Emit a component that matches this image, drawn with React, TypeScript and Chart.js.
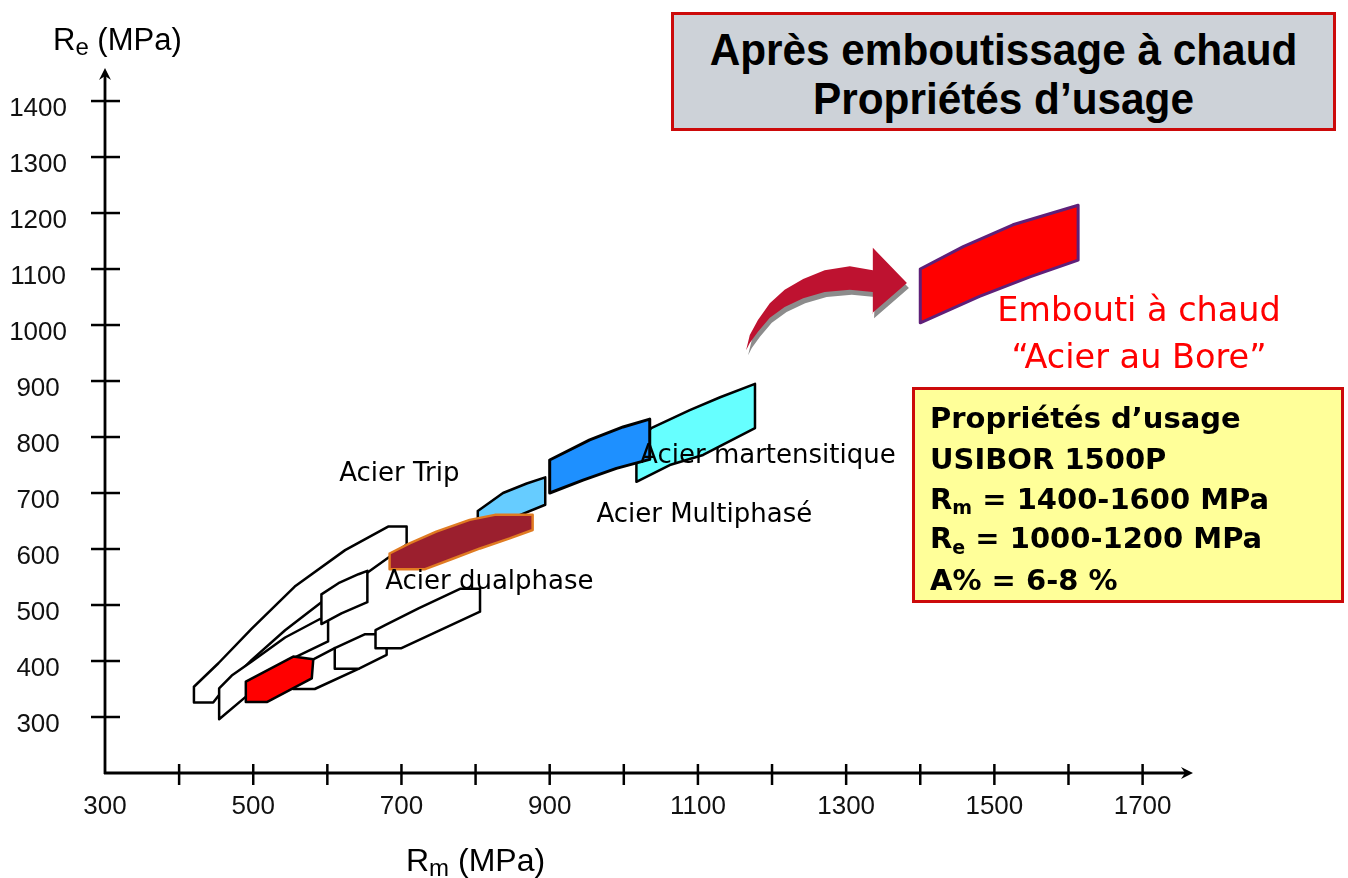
import React, { useEffect, useRef } from "react";
import { Chart, registerables } from "chart.js";

Chart.register(...registerables);

type Pt = [number, number];

// ---- Axis data (MPa) ----
const rmMin = 300;
const rmMax = 1768;
const reMin = 200;
const reMax = 1459;
const rmLabels = [300, 500, 700, 900, 1100, 1300, 1500, 1700];
const reLabels = [300, 400, 500, 600, 700, 800, 900, 1000, 1100, 1200, 1300, 1400];

// ---- Steel domains: [Rm, Re] vertices (MPa) ----
const lowBandOuter: Pt[] = [[420, 354], [420, 326], [446, 326], [466, 360], [498, 402], [543, 455], [592, 505], [651, 555], [707, 608], [707, 640], [682, 640], [624, 598], [556, 533], [498, 458], [453, 396]];
const lowBandInner: Pt[] = [[454, 351], [454, 296], [489, 335], [552, 404], [601, 435], [601, 471], [590, 475], [543, 442], [498, 399], [471, 374]];
const smallBoxUpper: Pt[] = [[592, 519], [592, 466], [619, 485], [654, 505], [654, 561], [642, 555], [615, 539]];
const lowBandLower: Pt[] = [[554, 382], [554, 350], [583, 350], [642, 386], [642, 399], [610, 423], [581, 403]];
const smallBoxLower: Pt[] = [[610, 423], [610, 386], [642, 386], [680, 411], [680, 448], [651, 448]];
const lowBandRight: Pt[] = [[665, 455], [665, 423], [700, 423], [806, 488], [806, 529], [779, 529], [723, 494], [678, 464]];
const redSmallZone: Pt[] = [[490, 363], [490, 327], [519, 327], [579, 369], [581, 403], [554, 408]];
const tripZone: Pt[] = [[803, 668], [803, 638], [853, 657], [894, 679], [894, 728], [869, 717], [837, 700]];
const dualphaseZone: Pt[] = [[684, 592], [684, 564], [732, 564], [770, 583], [806, 601], [846, 619], [877, 634], [877, 661], [826, 661], [792, 652], [747, 631], [711, 610]];
const martensiticZone: Pt[] = [[1017, 786], [1017, 720], [1062, 750], [1107, 768], [1177, 816], [1177, 895], [1130, 871], [1089, 848], [1037, 816]];
const multiphaseZone: Pt[] = [[900, 759], [900, 700], [945, 723], [990, 744], [1035, 760], [1035, 832], [999, 818], [954, 795]];
const boronZone: Pt[] = [[1400, 1004], [1400, 1100], [1458, 1140], [1525, 1179], [1613, 1214], [1613, 1116], [1548, 1086], [1480, 1051]];
const arrowShape: Pt[] = [[1165, 955], [1170, 982], [1181, 1009], [1197, 1039], [1217, 1063], [1242, 1082], [1271, 1098], [1305, 1105], [1336, 1098], [1336, 1138], [1382, 1075], [1335, 1021], [1336, 1059], [1305, 1063], [1271, 1059], [1242, 1048], [1217, 1032], [1197, 1013], [1181, 988], [1170, 968]];

// ---- In-chart labels ----
const zoneLabels = ["Acier Trip", "Acier dualphase", "Acier Multiphasé", "Acier martensitique"];
const zoneLabelRm = [616, 678, 963, 1022];
const zoneLabelRe = [721, 529, 648, 753];

// ---- Draw order (back to front) with styles ----
const zones = [
  { name: "lowBandOuter", pts: lowBandOuter, fill: "#FFFFFF", stroke: "#000000", width: 2.5 },
  { name: "lowBandInner", pts: lowBandInner, fill: "#FFFFFF", stroke: "#000000", width: 2.5 },
  { name: "smallBoxUpper", pts: smallBoxUpper, fill: "#FFFFFF", stroke: "#000000", width: 2.5 },
  { name: "lowBandLower", pts: lowBandLower, fill: "#FFFFFF", stroke: "#000000", width: 2.5 },
  { name: "smallBoxLower", pts: smallBoxLower, fill: "#FFFFFF", stroke: "#000000", width: 2.5 },
  { name: "lowBandRight", pts: lowBandRight, fill: "#FFFFFF", stroke: "#000000", width: 2.5 },
  { name: "redSmallZone", pts: redSmallZone, fill: "#FF0000", stroke: "#000000", width: 2.5 },
  { name: "tripZone", pts: tripZone, fill: "#66CCFF", stroke: "#000000", width: 2.5 },
  { name: "dualphaseZone", pts: dualphaseZone, fill: "#9B1F2E", stroke: "#E07B22", width: 2.5 },
  { name: "martensiticZone", pts: martensiticZone, fill: "#66FFFF", stroke: "#000000", width: 2.5 },
  { name: "multiphaseZone", pts: multiphaseZone, fill: "#1E90FF", stroke: "#000000", width: 3 },
  { name: "boronZone", pts: boronZone, fill: "#FF0000", stroke: "#5E2079", width: 3 },
  { name: "arrow", pts: arrowShape, fill: "#BE1230", stroke: "rgba(0,0,0,0)", width: 0 },
];

const diagramPlugin = {
  id: "diagram",
  beforeDatasetsDraw(chart: any) {
    const idx = chart.data.datasets.findIndex((d: any) => d.label === "arrow");
    if (idx < 0) return;
    const pts = chart.getDatasetMeta(idx).data;
    const ctx = chart.ctx;
    ctx.save();
    ctx.translate(2, 5);
    ctx.beginPath();
    pts.forEach((p: any, i: number) => (i ? ctx.lineTo(p.x, p.y) : ctx.moveTo(p.x, p.y)));
    ctx.closePath();
    ctx.fillStyle = "#8C8C8C";
    ctx.fill();
    ctx.restore();
  },
  afterDatasetsDraw(chart: any) {
    const ctx = chart.ctx;
    const xs = chart.scales.x;
    const ys = chart.scales.y;
    ctx.save();
    ctx.fillStyle = "#000";
    ctx.font = '26px "DejaVu Sans", sans-serif';
    ctx.textAlign = "left";
    ctx.textBaseline = "alphabetic";
    zoneLabels.forEach((t, i) => {
      ctx.fillText(t, xs.getPixelForValue(zoneLabelRm[i]), ys.getPixelForValue(zoneLabelRe[i]));
    });
    ctx.restore();
  },
  afterDraw(chart: any) {
    const ctx = chart.ctx;
    const xs = chart.scales.x;
    const ys = chart.scales.y;
    const area = chart.chartArea;
    const x0 = xs.getPixelForValue(rmMin);
    const y0 = ys.getPixelForValue(reMin);
    ctx.save();
    ctx.strokeStyle = "#000";
    ctx.fillStyle = "#000";
    ctx.lineWidth = 2.8;
    // y axis
    ctx.beginPath();
    ctx.moveTo(x0, y0 + 1);
    ctx.lineTo(x0, area.top + 6);
    ctx.stroke();
    ctx.beginPath();
    ctx.moveTo(x0, area.top);
    ctx.lineTo(x0 - 6, area.top + 12);
    ctx.lineTo(x0, area.top + 8);
    ctx.lineTo(x0 + 6, area.top + 12);
    ctx.closePath();
    ctx.fill();
    // x axis
    ctx.beginPath();
    ctx.moveTo(x0 - 1, y0);
    ctx.lineTo(area.right - 6, y0);
    ctx.stroke();
    ctx.beginPath();
    ctx.moveTo(area.right, y0);
    ctx.lineTo(area.right - 12, y0 - 6);
    ctx.lineTo(area.right - 8, y0);
    ctx.lineTo(area.right - 12, y0 + 6);
    ctx.closePath();
    ctx.fill();
    // tick marks crossing the axes
    ctx.lineWidth = 2.5;
    ys.ticks.forEach((t: any) => {
      if (t.value < 300) return;
      const py = ys.getPixelForValue(t.value);
      ctx.beginPath();
      ctx.moveTo(x0 - 14, py);
      ctx.lineTo(x0 + 15, py);
      ctx.stroke();
    });
    xs.ticks.forEach((t: any) => {
      if (t.value <= rmMin) return;
      const px = xs.getPixelForValue(t.value);
      ctx.beginPath();
      ctx.moveTo(px, y0 - 9);
      ctx.lineTo(px, y0 + 12);
      ctx.stroke();
    });
    ctx.restore();
  },
};

export default function App() {
  const canvasRef = useRef<HTMLCanvasElement>(null);

  useEffect(() => {
    const canvas = canvasRef.current;
    if (!canvas) return;
    const datasets = zones.map((z) => ({
      label: z.name,
      data: z.pts.concat([z.pts[0]]).map(([x, y]) => ({ x, y })),
      showLine: true,
      fill: "shape",
      backgroundColor: z.fill,
      borderColor: z.stroke,
      borderWidth: z.width,
      borderJoinStyle: "round",
      borderCapStyle: "round",
      pointRadius: 0,
      pointHoverRadius: 0,
      tension: 0,
    }));
    // first listed = drawn first (back)
    datasets.forEach((d: any, i: number) => {
      d.order = datasets.length - i;
    });
    const chart = new Chart(canvas, {
      type: "scatter",
      data: { datasets: datasets as any },
      options: {
        responsive: false,
        animation: false,
        events: [],
        layout: { padding: { left: 0, right: 155, top: 68, bottom: 0 } },
        plugins: { legend: { display: false }, tooltip: { enabled: false } },
        scales: {
          x: {
            type: "linear",
            position: "bottom",
            min: rmMin,
            max: rmMax,
            afterFit: (s: any) => {
              s.height = 105;
            },
            grid: { display: false, drawTicks: false },
            border: { display: false },
            ticks: {
              stepSize: 100,
              includeBounds: false,
              autoSkip: false,
              maxRotation: 0,
              minRotation: 0,
              padding: 18,
              color: "#111",
              font: { family: '"Liberation Sans", Arial, sans-serif', size: 26 },
              callback: (v: any) => (rmLabels.includes(Number(v)) ? String(v) : ""),
            },
          },
          y: {
            type: "linear",
            position: "left",
            min: reMin,
            max: reMax,
            afterFit: (s: any) => {
              s.width = 105;
            },
            grid: { display: false, drawTicks: false },
            border: { display: false },
            ticks: {
              stepSize: 100,
              includeBounds: false,
              autoSkip: false,
              padding: 38,
              crossAlign: "center",
              labelOffset: 8,
              color: "#111",
              font: { family: '"Liberation Sans", Arial, sans-serif', size: 26 },
              callback: (v: any) => (reLabels.includes(Number(v)) ? String(v) : ""),
            },
          },
        },
      } as any,
      plugins: [diagramPlugin as any],
    });
    return () => chart.destroy();
  }, []);

  const abs = (extra: React.CSSProperties): React.CSSProperties => ({
    position: "absolute",
    lineHeight: 1,
    whiteSpace: "nowrap",
    margin: 0,
    ...extra,
  });

  const dv = '"DejaVu Sans", Verdana, sans-serif';
  const lib = '"Liberation Sans", Arial, sans-serif';

  return (
    <div style={{ position: "absolute", left: 0, top: 0, width: 1348, height: 878, background: "#FFFFFF", overflow: "hidden" }}>
      <canvas ref={canvasRef} width={1348} height={878} style={{ position: "absolute", left: 0, top: 0 }} />

      {/* Axis titles */}
      <div style={abs({ left: 53, top: 23.8, fontFamily: lib, fontSize: 31, color: "#000" })}>
        R<span style={{ fontSize: 24, position: "relative", top: 5 }}>e</span> (MPa)
      </div>
      <div style={abs({ left: 406, top: 843.6, fontFamily: lib, fontSize: 32, color: "#000" })}>
        R<span style={{ fontSize: 24, position: "relative", top: 5 }}>m</span> (MPa)
      </div>

      {/* Title box */}
      <div
        style={{
          position: "absolute",
          left: 671,
          top: 12,
          width: 665,
          height: 119,
          boxSizing: "border-box",
          border: "3px solid #CC0A0A",
          background: "#CDD2D8",
        }}
      />
      <div style={abs({ left: 671, width: 665, top: 26.9, textAlign: "center", fontFamily: lib, fontWeight: 700, fontSize: 45, color: "#000", transform: "scaleX(0.94)" })}>
        Après emboutissage à chaud
      </div>
      <div style={abs({ left: 671, width: 665, top: 75.9, textAlign: "center", fontFamily: lib, fontWeight: 700, fontSize: 45, color: "#000", transform: "scaleX(0.94)" })}>
        Propriétés d’usage
      </div>

      {/* Red caption */}
      <div style={abs({ left: 939, width: 400, top: 293.4, textAlign: "center", fontFamily: dv, fontSize: 33.5, color: "#FF0000" })}>
        Embouti à chaud
      </div>
      <div style={abs({ left: 939, width: 400, top: 340, textAlign: "center", fontFamily: dv, fontSize: 33.5, color: "#FF0000" })}>
        {"\u201CAcier au Bore\u201D"}
      </div>

      {/* Properties box */}
      <div
        style={{
          position: "absolute",
          left: 912,
          top: 387,
          width: 432,
          height: 216,
          boxSizing: "border-box",
          border: "3px solid #CC0A0A",
          background: "#FFFF99",
        }}
      />
      <div style={abs({ left: 930, top: 403.8, fontFamily: dv, fontWeight: 700, fontSize: 29, color: "#000" })}>Propriétés d’usage</div>
      <div style={abs({ left: 930, top: 444.8, fontFamily: dv, fontWeight: 700, fontSize: 29, color: "#000" })}>USIBOR 1500P</div>
      <div style={abs({ left: 930, top: 484.8, fontFamily: dv, fontWeight: 700, fontSize: 29, color: "#000" })}>
        R<span style={{ fontSize: 19, position: "relative", top: 5 }}>m</span> = 1400-1600 MPa
      </div>
      <div style={abs({ left: 930, top: 523.8, fontFamily: dv, fontWeight: 700, fontSize: 29, color: "#000" })}>
        R<span style={{ fontSize: 19, position: "relative", top: 6 }}>e</span> = 1000-1200 MPa
      </div>
      <div style={abs({ left: 930, top: 565.5, fontFamily: dv, fontWeight: 700, fontSize: 29, color: "#000" })}>A% = 6-8 %</div>
    </div>
  );
}
